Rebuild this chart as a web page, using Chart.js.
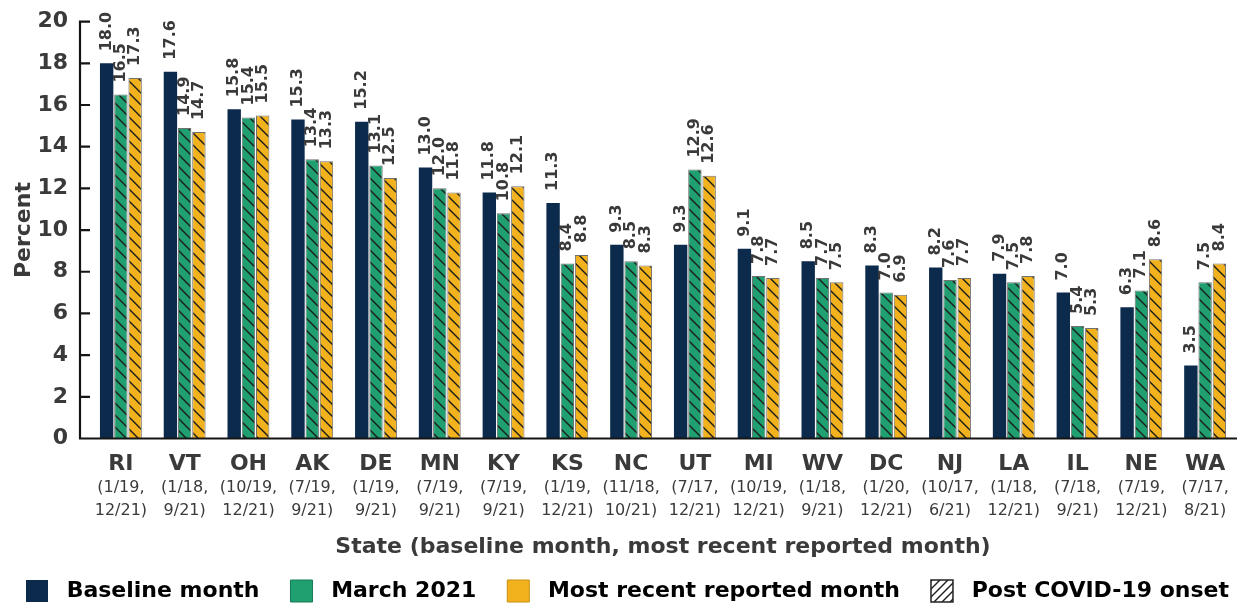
<!DOCTYPE html>
<html>
<head>
<meta charset="utf-8">
<script src="https://cdn.jsdelivr.net/npm/chart.js@4/dist/chart.umd.min.js"></script>
<style>
  html, body { margin: 0; padding: 0; background: #ffffff; }
  #wrap { width: 1241px; height: 605px; }
</style>
</head>
<body>
<div id="wrap"><canvas id="c" width="1241" height="605"></canvas></div>
<script>
// States with their baseline and most recent reported month
const states = ['RI','VT','OH','AK','DE','MN','KY','KS','NC','UT','MI','WV','DC','NJ','LA','IL','NE','WA'];
const periods = [
  ['(1/19,', '12/21)'], ['(1/18,', '9/21)'], ['(10/19,', '12/21)'], ['(7/19,', '9/21)'],
  ['(1/19,', '9/21)'], ['(7/19,', '9/21)'], ['(7/19,', '9/21)'], ['(1/19,', '12/21)'],
  ['(11/18,', '10/21)'], ['(7/17,', '12/21)'], ['(10/19,', '12/21)'], ['(1/18,', '9/21)'],
  ['(1/20,', '12/21)'], ['(10/17,', '6/21)'], ['(1/18,', '12/21)'], ['(7/18,', '9/21)'],
  ['(7/19,', '12/21)'], ['(7/17,', '8/21)']
];

// Percent values per period
const baseline = [18.0, 17.6, 15.8, 15.3, 15.2, 13.0, 11.8, 11.3, 9.3, 9.3, 9.1, 8.5, 8.3, 8.2, 7.9, 7.0, 6.3, 3.5];
const march2021 = [16.5, 14.9, 15.4, 13.4, 13.1, 12.0, 10.8, 8.4, 8.5, 12.9, 7.8, 7.7, 7.0, 7.6, 7.5, 5.4, 7.1, 7.5];
const mostRecent = [17.3, 14.7, 15.5, 13.3, 12.5, 11.8, 12.1, 8.8, 8.3, 12.6, 7.7, 7.5, 6.9, 7.7, 7.8, 5.3, 8.6, 8.4];

const yTicks = [0, 2, 4, 6, 8, 10, 12, 14, 16, 18, 20];

const NAVY = '#0c2a4c';
const GREEN = '#20a070';
const GOLD = '#f1b21d';
const INK = '#3a3a3a';
const FONT = "'DejaVu Sans', sans-serif";

// Diagonal hatch tile on a solid colour
function hatch(color, size, forward) {
  const t = document.createElement('canvas');
  t.width = size; t.height = size;
  const g = t.getContext('2d');
  g.fillStyle = color;
  g.fillRect(0, 0, size, size);
  g.strokeStyle = '#1c1c1c';
  g.lineWidth = 1.4;
  g.beginPath();
  if (forward) {
    g.moveTo(-2, size + 2); g.lineTo(size + 2, -2);
    g.moveTo(-2, 2); g.lineTo(2, -2);
    g.moveTo(size - 2, size + 2); g.lineTo(size + 2, size - 2);
  } else {
    g.moveTo(-2, -2); g.lineTo(size + 2, size + 2);
    g.moveTo(size - 2, -2); g.lineTo(size + 2, 2);
    g.moveTo(-2, size - 2); g.lineTo(2, size + 2);
  }
  g.stroke();
  return g.createPattern(t, 'repeat');
}

const ctx = document.getElementById('c').getContext('2d');
const greenHatch = hatch(GREEN, 12, false);
const goldHatch = hatch(GOLD, 12, false);
const legendHatch = hatch('#ffffff', 8, true);

// Axis lines with inward tick marks, drawn over the bar bases
const axisLines = {
  id: 'axisLines',
  afterDatasetsDraw(chart) {
    const c = chart.ctx;
    const y = chart.scales.y;
    const x = chart.scales.x;
    const axisX = chart.chartArea.left - 9;
    const y0 = y.getPixelForValue(0);
    const yTop = y.getPixelForValue(20);
    c.save();
    c.strokeStyle = '#151515';
    c.lineWidth = 2.2;
    c.beginPath();
    c.moveTo(axisX, yTop - 1);
    c.lineTo(axisX, y0);
    c.moveTo(axisX - 1, y0);
    c.lineTo(x.right, y0);
    yTicks.forEach(v => {
      if (v === 0) return;
      const py = y.getPixelForValue(v);
      c.moveTo(axisX, py);
      c.lineTo(axisX + 10, py);
    });
    c.stroke();
    c.restore();
  }
};

// Rotated value labels above each bar
const valueLabels = {
  id: 'valueLabels',
  afterDatasetsDraw(chart) {
    const c = chart.ctx;
    c.save();
    c.fillStyle = INK;
    c.font = "bold 16px " + FONT;
    c.textAlign = 'left';
    c.textBaseline = 'middle';
    chart.data.datasets.forEach((ds, i) => {
      chart.getDatasetMeta(i).data.forEach((bar, j) => {
        c.save();
        c.translate(bar.x, bar.y - 12);
        c.rotate(-Math.PI / 2);
        c.fillText(ds.data[j].toFixed(1), 0, 0);
        c.restore();
      });
    });
    c.restore();
  }
};

new Chart(ctx, {
  type: 'bar',
  data: {
    labels: states,
    datasets: [
      { label: 'Baseline month', data: baseline, backgroundColor: NAVY, borderWidth: 0 },
      { label: 'March 2021', data: march2021, backgroundColor: greenHatch, borderColor: '#707070', borderWidth: 1 },
      { label: 'Most recent reported month', data: mostRecent, backgroundColor: goldHatch, borderColor: '#707070', borderWidth: 1 }
    ]
  },
  options: {
    responsive: false,
    animation: false,
    events: [],
    layout: { padding: { top: 21.6, right: 4, left: 0, bottom: -7 } },
    datasets: { bar: { categoryPercentage: 0.67, barPercentage: 0.94 } },
    scales: {
      x: {
        offset: true,
        grid: { display: false, offset: true },
        border: { display: false },
        ticks: { color: INK, font: { family: FONT, size: 22, weight: 'bold' }, padding: 4.3, maxRotation: 0, autoSkip: false },
        afterFit(s) { s.height = 36; }
      },
      x2: {
        type: 'category',
        position: 'bottom',
        labels: periods,
        offset: true,
        weight: 1,
        grid: { display: false, offset: true },
        border: { display: false },
        ticks: { color: INK, font: { family: FONT, size: 16, lineHeight: 1.4375 }, padding: -6.5, maxRotation: 0, autoSkip: false },
        title: {
          display: true,
          text: 'State (baseline month, most recent reported month)',
          color: INK,
          font: { family: FONT, size: 22, weight: 'bold' },
          padding: { top: 0, bottom: 12 }
        },
        afterFit(s) { s.height = 97.5; }
      },
      y: {
        min: 0,
        max: 20,
        grid: { display: true, drawOnChartArea: false, tickLength: 21, tickColor: 'rgba(0,0,0,0)', tickWidth: 0 },
        border: { display: false },
        ticks: { stepSize: 2, color: INK, font: { family: FONT, size: 22, weight: 'bold' }, padding: 0 },
        title: {
          display: true,
          text: 'Percent',
          color: INK,
          font: { family: FONT, size: 22, weight: 'bold' },
          padding: { top: 11, bottom: 0 }
        },
        afterFit(s) { s.width = 89; }
      }
    },
    plugins: {
      tooltip: { enabled: false },
      legend: {
        position: 'bottom',
        align: 'end',
        labels: {
          boxWidth: 22,
          boxHeight: 22,
          padding: 8,
          color: INK,
          font: { family: FONT, size: 22, weight: 'bold' },
          generateLabels() {
            return [
              { text: ' Baseline month   ', fillStyle: NAVY, strokeStyle: NAVY, lineWidth: 0, hidden: false },
              { text: ' March 2021   ', fillStyle: GREEN, strokeStyle: '#167a55', lineWidth: 1, hidden: false },
              { text: ' Most recent reported month   ', fillStyle: GOLD, strokeStyle: '#c98f10', lineWidth: 1, hidden: false },
              { text: ' Post COVID-19 onset', fillStyle: legendHatch, strokeStyle: '#222222', lineWidth: 1.5, hidden: false }
            ];
          }
        }
      }
    }
  },
  plugins: [axisLines, valueLabels]
});
</script>
</body>
</html>
